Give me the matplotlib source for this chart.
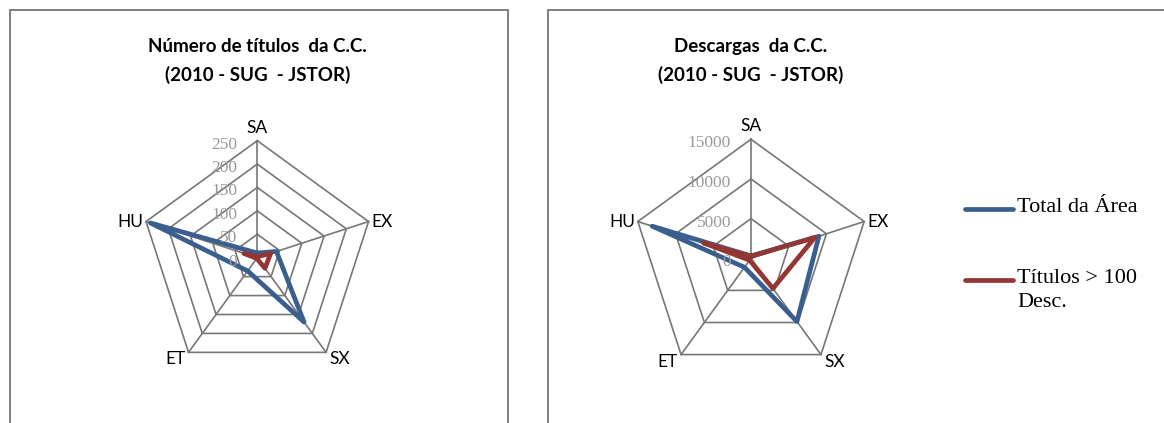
import matplotlib.pyplot as plt
import numpy as np
from matplotlib.lines import Line2D
from matplotlib.patches import Rectangle
from matplotlib.transforms import ScaledTranslation

# Data
categories = ['SA', 'EX', 'SX', 'ET', 'HU']

titles_total = [10, 43, 170, 35, 240]
titles_over100 = [2, 30, 28, 2, 30]

downloads_total = [300, 9000, 9850, 1400, 13100]
downloads_over100 = [250, 8450, 4700, 300, 6300]

titles_ticks = [0, 50, 100, 150, 200, 250]
downloads_ticks = [0, 5000, 10000, 15000]

series_labels = ['Total da Área', 'Títulos > 100\nDesc.']

BLUE = '#3A5F8E'
RED = '#943634'
GRID = '#777777'
W, H, DPI = 1164, 423, 100

fig = plt.figure(figsize=(W / DPI, H / DPI), dpi=DPI)


def px_box(cx, cy, r):
    return [(cx - r) / W, (H - cy - r) / H, 2 * r / W, 2 * r / H]


def offset(ax, dx, dy):
    return ax.transData + ScaledTranslation(dx / DPI, dy / DPI, fig.dpi_scale_trans)


# label alignment per category: (dx px, dy px, ha, va)
label_pos = {
    'SA': (0, 5, 'center', 'bottom'),
    'EX': (3, 0, 'left', 'center'),
    'SX': (3, -7, 'left', 'center'),
    'ET': (-3, -7, 'right', 'center'),
    'HU': (-3, 0, 'right', 'center'),
}


def radar(box, ticks, total, over, title):
    ax = fig.add_axes(box, projection='polar')
    ax.set_theta_offset(np.pi / 2)
    ax.set_theta_direction(-1)
    ax.set_ylim(0, ticks[-1])
    ax.grid(False)
    ax.set_xticks([])
    ax.set_yticks([])
    ax.spines['polar'].set_visible(False)
    ax.patch.set_alpha(0)

    angles = list(np.linspace(0, 2 * np.pi, len(categories), endpoint=False))
    closed = angles + angles[:1]

    # pentagon rings and spokes
    for v in ticks[1:]:
        ax.plot(closed, [v] * len(closed), color=GRID, lw=1.2, zorder=1, clip_on=False)
    for a in angles:
        ax.plot([a, a], [0, ticks[-1]], color=GRID, lw=1.2, zorder=1, clip_on=False)

    ax.plot(closed, total + total[:1], color=BLUE, lw=3.4, zorder=3,
            solid_joinstyle='round', clip_on=False)
    ax.plot(closed, over + over[:1], color=RED, lw=3.4, zorder=4,
            solid_joinstyle='round', clip_on=False)

    for a, c in zip(angles, categories):
        dx, dy, ha, va = label_pos[c]
        ax.text(a, ticks[-1], c, transform=offset(ax, dx, dy), ha=ha, va=va,
                fontsize=12.5, family='Lato', color='black')

    for v in ticks:
        ax.text(0, v, str(v), transform=offset(ax, -20, -4), ha='right', va='center',
                fontsize=12.5, family='Liberation Serif', color='#9a9a9a')

    cx = (box[0] + box[2] / 2)
    fig.text(cx, 1 - 61 / H, title, ha='center', va='center', fontsize=13.5,
             family='Lato', fontweight='bold', linespacing=1.75)
    return ax


ax1 = radar(px_box(257.3, 257.7, 117), titles_ticks, titles_total, titles_over100,
            'Número de títulos  da C.C.\n(2010 - SUG  - JSTOR)')
ax2 = radar(px_box(751, 258.3, 119), downloads_ticks, downloads_total, downloads_over100,
            'Descargas  da C.C.\n(2010 - SUG  - JSTOR)')

# chart area frames
for x0, x1 in [(9.5, 507.5), (547.5, 1175)]:
    fig.add_artist(Rectangle((x0 / W, -0.1), (x1 - x0) / W, 1.1 - 10 / H,
                             transform=fig.transFigure, fill=False,
                             edgecolor='#7f7f7f', lw=1.4, clip_on=False))

# legend
for y, color, label in [(209, BLUE, series_labels[0]), (280, RED, series_labels[1])]:
    fig.add_artist(Line2D([965 / W, 1013 / W], [1 - y / H, 1 - y / H],
                          transform=fig.transFigure, color=color, lw=3.4,
                          solid_capstyle='round'))
    fig.text(1017 / W, 1 - (y - 11) / H, label, ha='left', va='top', fontsize=16,
             family='Liberation Serif', linespacing=1.35)

fig.savefig('out.png', dpi=DPI)
